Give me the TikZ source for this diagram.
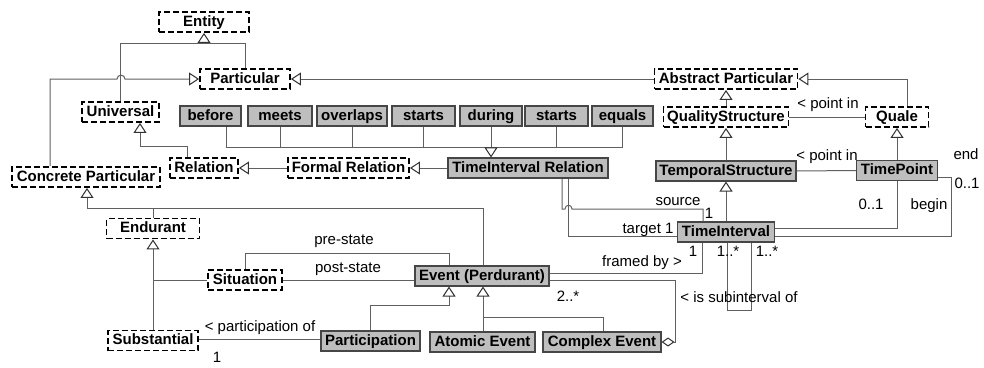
\documentclass[tikz,border=0pt]{standalone}
\usepackage{fontspec}
\setmainfont{Liberation Sans}
\usetikzlibrary{arrows.meta}
\definecolor{linegray}{RGB}{96,96,96}
\definecolor{tipgray}{RGB}{50,50,50}
\definecolor{boxgray}{RGB}{190,190,190}
\definecolor{boxedge}{RGB}{70,70,70}
\begin{document}
\begin{tikzpicture}[x=1pt,y=-1pt,
  every node/.style={inner sep=0pt, text height=11pt, text depth=3pt},
  abstractbox/.style={draw=black, line width=1.9pt, dash pattern=on 6pt off 3pt,
    fill=white, font=\fontsize{15}{18}\selectfont\bfseries, minimum height=20pt},
  classbox/.style={draw=boxedge, line width=1.1pt, fill=boxgray,
    font=\fontsize{15}{18}\selectfont\bfseries, minimum height=20pt},
  conn/.style={draw=linegray, line width=1pt},
  gen/.style={-{Triangle[open,length=10pt,width=13pt,color=tipgray]}},
  agg/.style={-{Diamond[open,length=13pt,width=9pt,color=tipgray]}},
  lbl/.style={font=\fontsize{15}{18}\selectfont, text=black}
]
\useasboundingbox (0,0) rectangle (984,367);

% ---------- classes ----------
\node[abstractbox, minimum width=90pt]  (entity)     at (204,22)   {Entity};
\node[abstractbox, minimum width=90pt]  (particular) at (245,79)   {Particular};
\node[abstractbox, minimum width=143pt] (abstract)   at (726,79)   {Abstract Particular};
\node[abstractbox, minimum width=77pt]  (universal)  at (120.5,112) {Universal};
\node[abstractbox, minimum width=125pt] (qs)         at (726,117)  {QualityStructure};
\node[abstractbox, minimum width=63pt]  (quale)      at (897,117)  {Quale};

\node[classbox, minimum width=61pt] (before)   at (210.5,116) {before};
\node[classbox, minimum width=64pt] (meets)    at (280,116)   {meets};
\node[classbox, minimum width=70pt] (overlaps) at (352,116)   {overlaps};
\node[classbox, minimum width=63pt] (starts)   at (423.5,116) {starts};
\node[classbox, minimum width=62pt] (during)   at (491,116)   {during};
\node[classbox, minimum width=63pt] (starts2)  at (556.5,116) {starts};
\node[classbox, minimum width=61pt] (equals)   at (622.5,116) {equals};

\node[abstractbox, minimum width=68pt]  (relation) at (204,168)   {Relation};
\node[abstractbox, minimum width=121pt] (formal)   at (348.5,168) {Formal Relation};
\node[classbox, minimum width=160pt]    (tir)      at (528,168)   {TimeInterval Relation};
\node[classbox, minimum width=140pt]    (ts)       at (726,171)   {TemporalStructure};
\node[classbox, minimum width=81pt]     (tp)       at (897,170.5) {TimePoint};
\node[abstractbox, minimum width=148pt] (cp)       at (86,177)    {Concrete Particular};
\node[abstractbox, minimum width=93pt]  (endurant) at (153,228.5) {Endurant};
\node[classbox, minimum width=97pt]     (ti)       at (726,232)   {TimeInterval};
\node[abstractbox, minimum width=74pt]  (situation) at (245,280)  {Situation};
\node[classbox, minimum width=134pt]    (event)    at (482,276)   {Event (Perdurant)};
\node[abstractbox, minimum width=90pt]  (substantial) at (153,340.5) {Substantial};
\node[classbox, minimum width=99pt]  (participation) at (370.5,341) {Participation};
\node[classbox, minimum width=105pt] (atomic)  at (482.5,342) {Atomic Event};
\node[classbox, minimum width=118pt] (complex) at (602,342)   {Complex Event};

% ---------- generalisations ----------
\draw[conn] (universal.north) |- (particular.north |- 0,43) -- (particular.north);
\draw[conn,gen] (entity.south |- 0,43) -- (entity.south);
\draw[conn,gen] (cp.north -| 50,0) -- (50,79) -- (117,79)
  .. controls (117,74) and (125,74) .. (125,79) -- (particular.west);
\draw[conn,gen] (abstract.west) -- (particular.east);
\draw[conn,gen] (relation.north -| 187,0) |- (140,146) -- (universal.south -| 140,0);
\draw[conn,gen] (formal.west) -- (relation.east);
\draw[conn,gen] (tir.west) -- (formal.east);

\draw[conn] (before.south -| 226,0) |- (equals.south |- 0,147) -- (equals.south);
\foreach \r in {meets,overlaps,starts,starts2}
  \draw[conn] (\r.south) -- (\r.south |- 0,147);
\draw[conn,gen] (during.south) -- (during.south |- tir.north);

\draw[conn,gen] (qs.north) -- (abstract.south);
\draw[conn,gen] (quale.north -| 907,0) |- (abstract.east);
\draw[conn,gen] (ts.north) -- (qs.south);
\draw[conn,gen] (tp.north) -- (quale.south);
\draw[conn,gen] (ti.north) -- (ts.south);

\draw[conn,gen] (event.north -| 483,0) |- (87,208) -- (cp.south -| 87,0);
\draw[conn] (endurant.north) -- (endurant.north |- 0,208);
\draw[conn,gen] (substantial.north) -- (endurant.south);
\draw[conn] (situation.west) -- (situation.west -| endurant.south);

\draw[conn,gen] (participation.north) |- (449,305) -- (event.south -| 449,0);
\draw[conn,gen] (atomic.north -| 483,0) -- (event.south -| 483,0);
\draw[conn] (complex.north -| 603,0) |- (483,317);

% ---------- associations ----------
\draw[conn] (qs.east) -- (quale.west);
\draw[conn] (ts.east) -- (tp.west);

\draw[conn] (tir.south -| 562,0) -- (562,209) -- (565,209)
  .. controls (565,204) and (572,204) .. (572,209) -- (703,209) -- (ti.north -| 703,0);
\draw[conn] (tir.south -| 568,0) |- (ti.west |- 0,236);
\draw[conn] (ti.east |- 0,228) -| (tp.south);
\draw[conn] (ti.east |- 0,236) -| (951,177) -- (tp.east |- 0,177);

\draw[conn] (event.east |- 0,273) -| (ti.south -| 702,0);
\draw[conn] (ti.south -| 727,0) -- (727,310) -- (751,310) -- (ti.south -| 751,0);
\draw[conn,agg] (event.east |- 0,280) -| (675,342) -- (complex.east);

\draw[conn] (situation.north) |- (449,253) -- (event.north -| 449,0);
\draw[conn] (situation.east) -- (situation.east -| event.west);
\draw[conn] (substantial.east |- 0,339) -- (participation.west |- 0,339);

% ---------- labels ----------
\node[lbl] (lpq)   at (828,104) {< point in};
\node[lbl] (lpt)   at (827,156) {< point in};
\node[lbl] (lend)  at (966,155) {end};
\node[lbl] (lend1) at (967,184) {0..1};
\node[lbl] (lbeg1) at (871,205) {0..1};
\node[lbl] (lbeg)  at (929,205) {begin};
\node[lbl] (lsrc)  at (678,201) {source};
\node[lbl] (lsrc1) at (709,214) {1};
\node[lbl] (ltgt)  at (648,229) {target 1};
\node[lbl] (lfr)   at (642,262) {framed by >};
\node[lbl] (lfr1)  at (693,252) {1};
\node[lbl] (lsub1) at (728,252) {1..*};
\node[lbl] (lsub2) at (767,252) {1..*};
\node[lbl] (lsub)  at (739,298) {< is subinterval of};
\node[lbl] (lagg)  at (568,297) {2..*};
\node[lbl] (lpre)  at (344,240) {pre-state};
\node[lbl] (lpost) at (348,268) {post-state};
\node[lbl] (lpart) at (260,327) {< participation of};
\node[lbl] (lpart1) at (217,358) {1};
\end{tikzpicture}
\end{document}
